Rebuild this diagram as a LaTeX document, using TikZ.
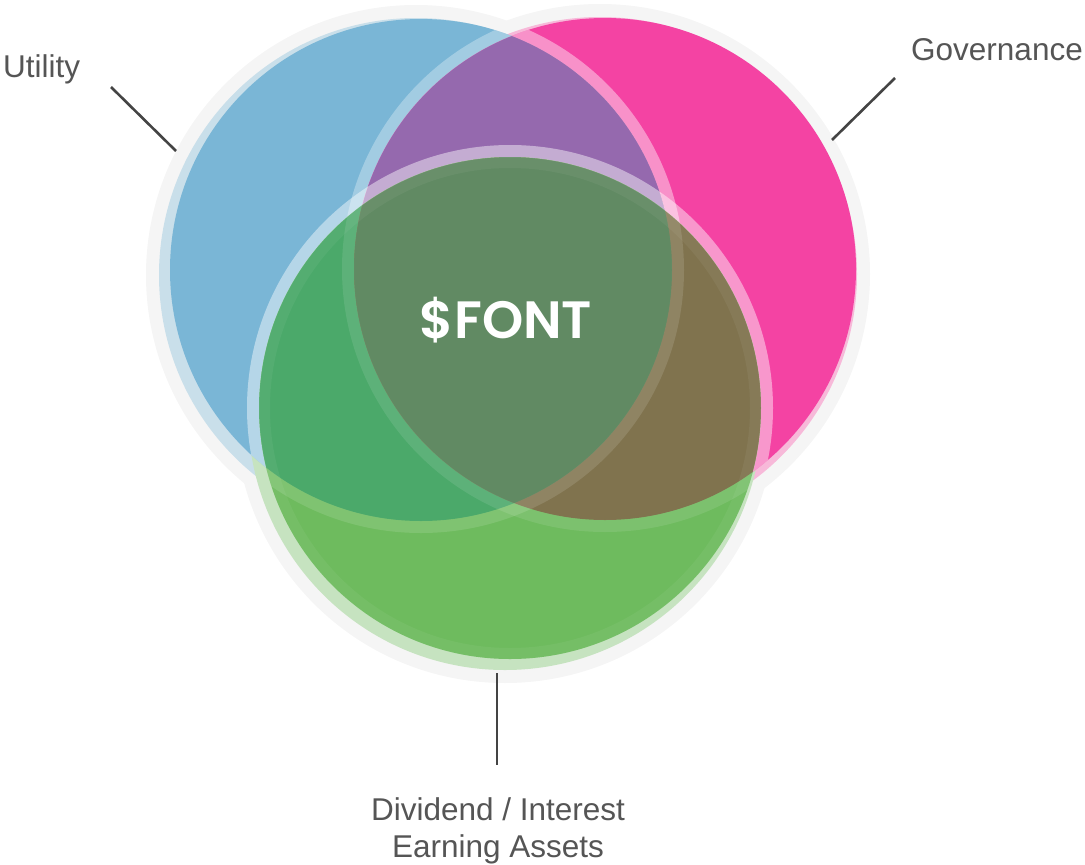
\documentclass[tikz,border=0pt]{standalone}
\usepackage{fontspec}
\setmainfont{Liberation Sans}
\newfontfamily\popfont{Poppins}[BoldFont={Poppins SemiBold}]
\usetikzlibrary{calc}
\definecolor{cblue}{HTML}{7AB6D6}
\definecolor{cpink}{HTML}{F443A3}
\definecolor{cpurple}{HTML}{9569AE}
\definecolor{cgreen}{HTML}{6EBB5E}
\definecolor{cbg}{HTML}{4BA96A}
\definecolor{cpg}{HTML}{80734E}
\definecolor{call}{HTML}{618A63}
\definecolor{halo}{HTML}{F5F5F5}
\definecolor{btint}{HTML}{C9DFEA}
\definecolor{ptint}{HTML}{F7B9D9}
\definecolor{gtint}{HTML}{C6E3C0}
\definecolor{labelgray}{HTML}{555555}
\definecolor{linegray}{HTML}{444444}
\tikzset{
  label text/.style={text=labelgray, font=\fontsize{31.5}{37}\selectfont, inner sep=0pt},
  leader/.style={draw=linegray, line width=2.6pt},
  ringw/.style={fill=white, fill opacity=#1, even odd rule},
}
\begin{document}
\begin{tikzpicture}[x=1pt,y=-1pt]
\useasboundingbox (0,0) rectangle (1085,865);
\coordinate (cb) at (421,270);
\coordinate (cp) at (605,269);
\coordinate (cg) at (510,408);
% halos
\foreach \c in {cb,cp,cg}
  \fill[halo] ($(\c)+(-5,5)$) circle[radius=270pt];
% tinted rims
\fill[btint] ($(cb)+(-5,5)$) circle[radius=257pt];
\fill[ptint] ($(cp)+(-5,5)$) circle[radius=257pt];
\fill[gtint] ($(cg)+(-5,5)$) circle[radius=257pt];
% blue and pink
\fill[cblue] (cb) circle[radius=251pt];
\fill[cpink] (cp) circle[radius=251pt];
\begin{scope}
  \clip (cb) circle[radius=251pt];
  \fill[cpurple] (cp) circle[radius=251pt];
\end{scope}
\begin{scope}
  \clip (cp) circle[radius=251pt];
  \fill[ringw=.42] (cb) circle[radius=263pt] (cb) circle[radius=251pt];
\end{scope}
\begin{scope}
  \clip (cb) circle[radius=251pt];
  \fill[ringw=.3] (cp) circle[radius=263pt] (cp) circle[radius=251pt];
\end{scope}
% green
\fill[cgreen] (cg) circle[radius=251pt];
\begin{scope}
  \clip (cg) circle[radius=251pt];
  \fill[cbg] (cb) circle[radius=251pt];
  \fill[cpg] (cp) circle[radius=251pt];
  \clip (cb) circle[radius=251pt];
  \fill[call] (cp) circle[radius=251pt];
\end{scope}
\begin{scope}
  \clip (cg) circle[radius=251pt];
  \fill[ringw=.12] (cb) circle[radius=263pt] (cb) circle[radius=251pt];
  \fill[ringw=.1] (cp) circle[radius=263pt] (cp) circle[radius=251pt];
\end{scope}
\begin{scope}
  \clip (cb) circle[radius=251pt];
  \fill[ringw=.45] (cg) circle[radius=263pt] (cg) circle[radius=251pt];
\end{scope}
\begin{scope}
  \clip (cp) circle[radius=251pt];
  \begin{scope}[even odd rule]
    \clip (cp) circle[radius=251pt] (cb) circle[radius=251pt];
    \fill[ringw=.45] (cg) circle[radius=263pt] (cg) circle[radius=251pt];
  \end{scope}
\end{scope}
\fill[ringw=.05] (cg) circle[radius=251pt] (cg) circle[radius=240pt];
% center label
\node[anchor=base, text=white, inner sep=0pt, font=\popfont\bfseries\fontsize{52.5}{60}\selectfont] (font) at (506,338) {\$FONT};
% labels
\node[label text, anchor=base west] (util) at (3,77) {Utility};
\node[label text, anchor=base east] (gov) at (1083,60) {Governance};
\node[label text, anchor=base] (div1) at (498,820) {Dividend / Interest};
\node[label text, anchor=base] (div2) at (498,857) {Earning Assets};
% leaders
\coordinate (u1) at (111,87);
\coordinate (u2) at (176,151);
\coordinate (g1) at (895,78);
\coordinate (g2) at (832,140);
\coordinate (d1) at (497,673);
\coordinate (d2) at (497,765);
\draw[leader] (u1) -- (u2);
\draw[leader] (g1) -- (g2);
\draw[leader] (d1) -- (d2);
\end{tikzpicture}
\end{document}
